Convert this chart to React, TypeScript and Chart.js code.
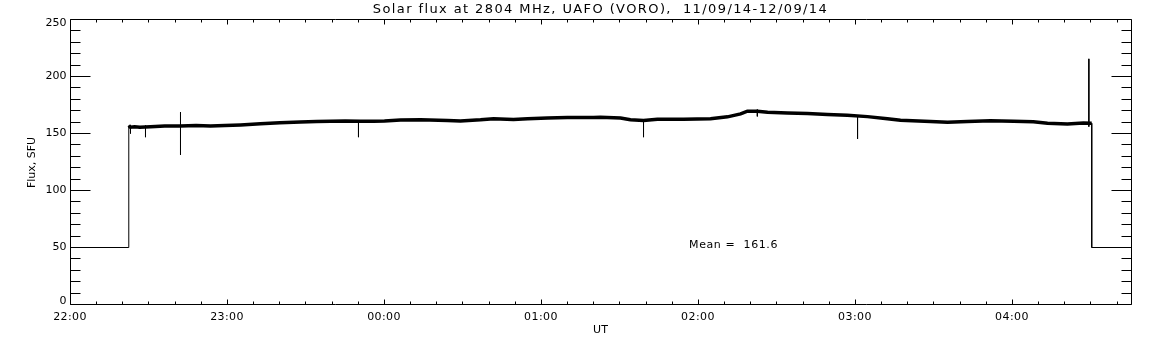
import React, { useEffect, useRef } from "react";
import { Chart, registerables } from "chart.js";

Chart.register(...registerables);

// Minutes since 22:00 UT on 11/09/14
const traceMinutes = [
  22.28, 22.9, 24.5, 26.5, 30.6, 36, 42, 48, 53.5, 59, 65, 72.6, 80, 87.9, 94, 99.4, 105, 110.8,
  116, 120, 126.1, 133.8, 144.1, 149, 156.7, 161.7, 169.3, 174.7, 182.3, 189.9, 199.9, 202.5,
  210.2, 214, 219, 224.3, 234.3, 244.6, 251.1, 256.1, 258.7, 262.5, 266.4, 274, 281.7, 289.3,
  296.9, 304.6, 312.2, 317.2, 328.7, 335.2, 342.8, 351.6, 360.4, 368, 373.4, 381, 387.1, 390.3,
];
const traceFlux = [
  157, 155.5, 156, 155.5, 156, 156.5, 156.5, 157, 156.5, 157, 157.5, 158.5, 159.5, 160, 160.5,
  160.8, 161, 160.8, 160.8, 161, 161.8, 162, 161.5, 161, 162, 163, 162.3, 163, 163.6,
  164, 164, 164.3, 163.6, 162, 161.4, 162.6, 162.5, 163, 164.6, 167.2, 169.6, 169.6, 168.6, 168,
  167.5, 166.6, 166, 164.8, 163, 161.6, 160.6, 159.8, 160.6, 161.2, 160.8, 160.2, 159, 158.4,
  159.2, 159,
];

// Short spikes / dips in the record
const spikeMinutes = [22.93, 28.66, 42.04, 110.06, 219, 262.5, 300.8, 389.2];
const spikeHigh = [157, 157, 168.7, 161, 161.5, 171, 165, 215.5];
const spikeLow = [150, 146.8, 131.3, 146.8, 146.8, 165, 145.3, 156];

// Fill value (no data) before and after observation
const fillMinutes = [0, 22.28, 22.28, 390.3, 390.3, 405.5];
const fillFlux = [50, 50, 157, 159, 50, 50];
const fillBreakAfter = 2;

const xMin = 0;
const xMax = 405.5;
const yMin = 0;
const yMax = 250;
const xMajorTicks = [0, 60, 120, 180, 240, 300, 360];
const xTickLabels = ["22:00", "23:00", "00:00", "01:00", "02:00", "03:00", "04:00"];
const xMinorStep = 10;
const yMajorTicks = [0, 50, 100, 150, 200, 250];
const yTickLabels = ["0", "50", "100", "150", "200", "250"];
const yMinorStep = 10;

const titleText = "Solar flux at 2804 MHz, UAFO (VORO),  11/09/14-12/09/14";
const xTitle = "UT";
const yTitle = "Flux, SFU";
const meanText = "Mean =  161.6";
const meanPos = { x: 236.6, y: 52 };

const FONT = '"DejaVu Sans", sans-serif';

const offsetPlugin = {
  id: "crispOffset",
  beforeDatasetsDraw(chart: any) {
    chart.ctx.save();
    chart.ctx.translate(0.5, 0.5);
  },
  afterDatasetsDraw(chart: any) {
    chart.ctx.restore();
  },
};

const framePlugin = {
  id: "idlFrame",
  afterDraw(chart: any) {
    const ctx = chart.ctx as any;
    const { left, right, top, bottom } = chart.chartArea;
    const xs = chart.scales.x;
    const ys = chart.scales.y;
    ctx.save();
    ctx.strokeStyle = "#000";
    ctx.fillStyle = "#000";
    ctx.lineWidth = 1;
    ctx.beginPath();
    ctx.rect(left + 0.5, top + 0.5, right - left, bottom - top);
    ctx.stroke();

    ctx.beginPath();
    for (let m = xMin; m <= xMax + 1e-6; m += xMinorStep) {
      const px = Math.round(xs.getPixelForValue(m)) + 0.5;
      const len = m % 60 === 0 ? 5 : 3;
      ctx.moveTo(px, bottom + 0.5);
      ctx.lineTo(px, bottom + 0.5 - len);
      ctx.moveTo(px, top + 0.5);
      ctx.lineTo(px, top + 0.5 + len);
    }
    for (let v = yMin; v <= yMax + 1e-6; v += yMinorStep) {
      const py = Math.round(ys.getPixelForValue(v)) + 0.5;
      const len = v % 50 === 0 ? 20 : 10;
      ctx.moveTo(left + 0.5, py);
      ctx.lineTo(left + 0.5 + len, py);
      ctx.moveTo(right + 0.5, py);
      ctx.lineTo(right + 0.5 - len, py);
    }
    ctx.stroke();

    ctx.font = "11px " + FONT;
    ctx.letterSpacing = "0.4px";
    ctx.textAlign = "center";
    ctx.textBaseline = "alphabetic";
    xMajorTicks.forEach((m, i) => {
      ctx.fillText(xTickLabels[i], xs.getPixelForValue(m), 320);
    });
    ctx.letterSpacing = "0px";
    ctx.textAlign = "right";
    ctx.textBaseline = "middle";
    yMajorTicks.forEach((v, i) => {
      let py = ys.getPixelForValue(v);
      py = Math.max(top + 4, Math.min(bottom - 3.5, py));
      ctx.fillText(yTickLabels[i], left - 3.5, py + 0.5);
    });

    ctx.textAlign = "center";
    ctx.textBaseline = "alphabetic";
    ctx.font = "13px " + FONT;
    ctx.letterSpacing = "1.4px";
    ctx.fillText(titleText, (left + right) / 2, 13);
    ctx.letterSpacing = "0px";
    ctx.font = "11px " + FONT;
    ctx.fillText(xTitle, (left + right) / 2, 333);

    ctx.save();
    ctx.translate(35, (top + bottom) / 2 + 1);
    ctx.rotate(-Math.PI / 2);
    ctx.textAlign = "center";
    ctx.fillText(yTitle, 0, 0);
    ctx.restore();

    ctx.textAlign = "left";
    ctx.textBaseline = "middle";
    ctx.letterSpacing = "0.6px";
    ctx.fillText(meanText, xs.getPixelForValue(meanPos.x), ys.getPixelForValue(meanPos.y));
    ctx.letterSpacing = "0px";
    ctx.restore();
  },
};

export default function App() {
  const ref = useRef<HTMLCanvasElement | null>(null);
  useEffect(() => {
    if (!ref.current) return;
    const base = traceMinutes.map((m, i) => ({ x: m, y: traceFlux[i] }));
    const spikes: { x: number; y: number | null }[] = [];
    spikeMinutes.forEach((m, i) => {
      spikes.push({ x: m, y: spikeHigh[i] });
      spikes.push({ x: m, y: spikeLow[i] });
      spikes.push({ x: m, y: null });
    });
    const fill: { x: number; y: number | null }[] = [];
    fillMinutes.forEach((m, i) => {
      fill.push({ x: m, y: fillFlux[i] });
      if (i === fillBreakAfter) fill.push({ x: m, y: null });
    });
    const chart = new Chart(ref.current, {
      type: "line",
      data: {
        datasets: [
          {
            data: base,
            borderColor: "#000",
            borderWidth: 3.5,
            pointRadius: 0,
            tension: 0,
            fill: false,
          },
          {
            data: spikes as any,
            borderColor: "#000",
            borderWidth: 1,
            pointRadius: 0,
            spanGaps: false,
            fill: false,
          },
          {
            data: fill as any,
            borderColor: "#000",
            borderWidth: 1,
            pointRadius: 0,
            spanGaps: false,
            fill: false,
          },
        ],
      },
      options: {
        animation: false,
        responsive: false,
        devicePixelRatio: 1,
        layout: { padding: { left: 70, right: 21, top: 19, bottom: 41 } },
        plugins: { legend: { display: false }, tooltip: { enabled: false }, title: { display: false } },
        events: [],
        scales: {
          x: { type: "linear", min: xMin, max: xMax, display: false },
          y: { type: "linear", min: yMin, max: yMax, display: false },
        },
      },
      plugins: [offsetPlugin, framePlugin],
    });
    return () => chart.destroy();
  }, []);
  return (
    <div style={{ position: "fixed", left: 0, top: 0, width: 1152, height: 345, background: "#fff" }}>
      <canvas ref={ref} width={1152} height={345} style={{ width: 1152, height: 345, display: "block" }} />
    </div>
  );
}
